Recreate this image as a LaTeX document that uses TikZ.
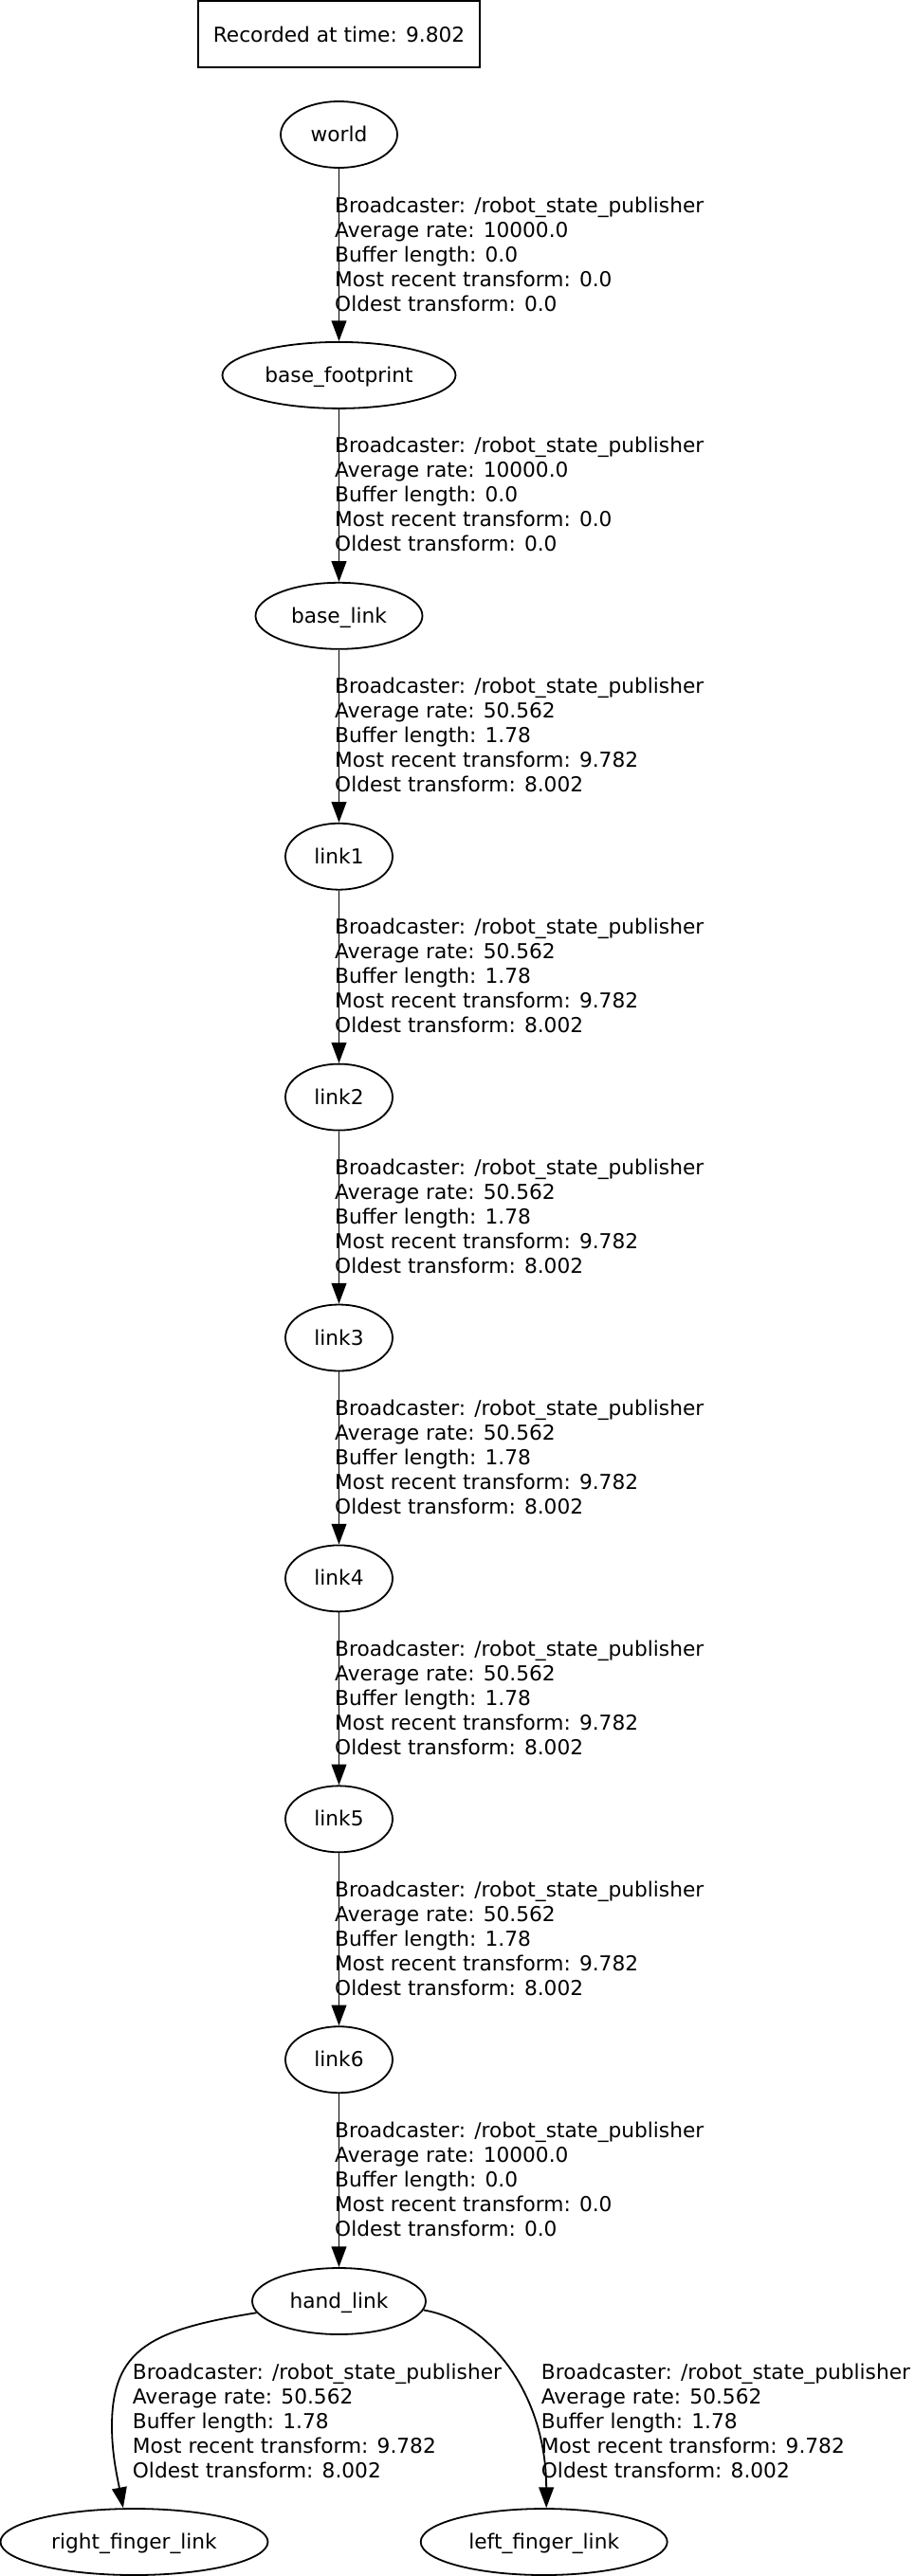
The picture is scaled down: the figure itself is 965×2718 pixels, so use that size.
\documentclass[tikz,border=0pt]{standalone}
\usepackage{fontspec}
\setmainfont{DejaVu Sans}
\usetikzlibrary{shapes.geometric,arrows.meta}
\newcommand\tfinfo[4]{\vtop{\baselineskip=26pt\lineskiplimit=-100pt\hbox{Broadcaster: /robot\_state\_publisher}\hbox{Average rate: #1}\hbox{Buffer length: #2}\hbox{Most recent transform: #3}\hbox{Oldest transform: #4}}}
\tikzset{
  every node/.style={font=\fontsize{21.7}{26}\selectfont},
  recbox/.style={draw, rectangle, line width=1.8pt, minimum width=297pt, minimum height=70pt, inner sep=0pt},
  tfnode/.style={draw, ellipse, line width=1.8pt, minimum height=70pt, inner sep=0pt, text height=16.5pt, text depth=1.5pt},
  lbl/.style={anchor=base west, inner sep=0pt},
  conn/.style={line width=1.8pt, -{Triangle[length=21.7pt,width=15.7pt]}}
}
\begin{document}
\begin{tikzpicture}[x=1pt,y=-1pt]
\useasboundingbox (0,0) rectangle (965,2718);
\node[recbox] (rec) at (357.5,36) {Recorded at time: 9.802};
\node[tfnode, minimum width=123pt] (w)  at (357.5,142.0) {world};
\node[tfnode, minimum width=246pt] (bf) at (357.5,395.9) {base\_footprint};
\node[tfnode, minimum width=176pt] (bl) at (357.5,649.8) {base\_link};
\node[tfnode, minimum width=113pt] (l1) at (357.5,903.7) {link1};
\node[tfnode, minimum width=113pt] (l2) at (357.5,1157.6) {link2};
\node[tfnode, minimum width=113pt] (l3) at (357.5,1411.5) {link3};
\node[tfnode, minimum width=113pt] (l4) at (357.5,1665.4) {link4};
\node[tfnode, minimum width=113pt] (l5) at (357.5,1919.3) {link5};
\node[tfnode, minimum width=113pt] (l6) at (357.5,2173.2) {link6};
\node[tfnode, minimum width=183pt] (hl) at (357.5,2428.0) {hand\_link};
\node[tfnode, minimum width=282pt] (rf) at (141.5,2682.0) {right\_finger\_link};
\node[tfnode, minimum width=260pt] (lf) at (573.7,2682.0) {left\_finger\_link};

\draw[conn] (w) -- (bf);
\draw[conn] (bf) -- (bl);
\draw[conn] (bl) -- (l1);
\draw[conn] (l1) -- (l2);
\draw[conn] (l2) -- (l3);
\draw[conn] (l3) -- (l4);
\draw[conn] (l4) -- (l5);
\draw[conn] (l5) -- (l6);
\draw[conn] (l6) -- (hl);
\draw[conn] (hl.188) .. controls (160,2458) and (118,2478) .. (118,2560) .. controls (118,2590) and (124,2615) .. (rf.108);
\draw[conn] (hl.-6) .. controls (520,2450) and (576,2530) .. (lf.86);

\node[lbl] (t1) at (353,224.0) {\tfinfo{10000.0}{0.0}{0.0}{0.0}};
\node[lbl] (t2) at (353,477.9) {\tfinfo{10000.0}{0.0}{0.0}{0.0}};
\node[lbl] (t3) at (353,731.8) {\tfinfo{50.562}{1.78}{9.782}{8.002}};
\node[lbl] (t4) at (353,985.7) {\tfinfo{50.562}{1.78}{9.782}{8.002}};
\node[lbl] (t5) at (353,1239.6) {\tfinfo{50.562}{1.78}{9.782}{8.002}};
\node[lbl] (t6) at (353,1493.5) {\tfinfo{50.562}{1.78}{9.782}{8.002}};
\node[lbl] (t7) at (353,1747.4) {\tfinfo{50.562}{1.78}{9.782}{8.002}};
\node[lbl] (t8) at (353,2001.3) {\tfinfo{50.562}{1.78}{9.782}{8.002}};
\node[lbl] (t9) at (353,2255.2) {\tfinfo{10000.0}{0.0}{0.0}{0.0}};
\node[lbl] (t10) at (139.7,2510) {\tfinfo{50.562}{1.78}{9.782}{8.002}};
\node[lbl] (t11) at (570.7,2510) {\tfinfo{50.562}{1.78}{9.782}{8.002}};
\end{tikzpicture}
\end{document}
